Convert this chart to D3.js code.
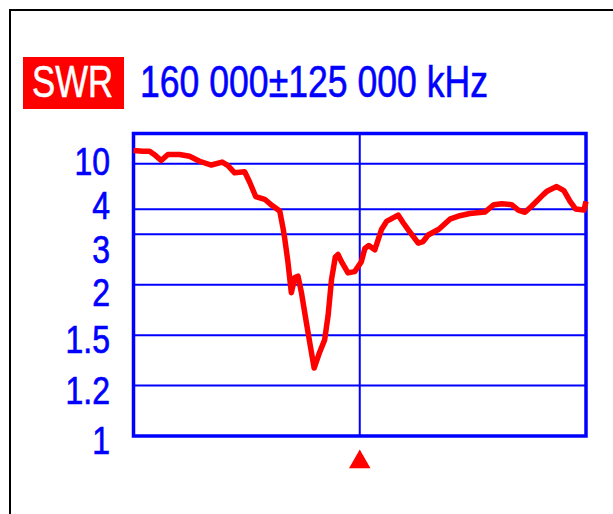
<!DOCTYPE html>
<html>
<head>
<meta charset="utf-8">
<script src="https://cdn.jsdelivr.net/npm/d3@7"></script>
<style>
  html, body { margin: 0; padding: 0; background: #fff; }
  svg { display: block; }
  text { font-family: "Liberation Sans", Arial, sans-serif; }
</style>
</head>
<body>
<svg id="chart" width="613" height="514"></svg>
<script>
// Sweep: centre 160 000 kHz, span ±125 000 kHz
const centerKHz = 160000;
const spanKHz = 125000;

// Measured sweep (frequency in kHz, SWR)
const freqKHz = [35000, 40000, 43850, 47200, 50300, 54000, 60400, 66000, 71500, 78000,
  84000, 87200, 90900, 96400, 99200, 102500, 107500, 111600, 115800, 117600,
  118500, 120300, 122200, 124100, 125900, 127800, 130500, 132400, 134800, 137900,
  140600, 142500, 144400, 146500, 148000, 149900, 153500, 157200, 160900, 162800,
  165000, 168300, 172000, 174800, 181200, 184000, 186700, 192300, 195000, 197800,
  203700, 209800, 215300, 220800, 229100, 234100, 238500, 243900, 247600, 251300,
  255100, 261400, 263400, 268800, 272800, 276200, 279200, 283900, 285000];
const swrValues = [17.8, 17.1, 17.1, 13.7, 11.2, 14.4, 14.4, 13.3, 10.9, 9.6,
  10.6, 9.4, 7.7, 7.9, 6.2, 4.8, 4.6, 4.2, 3.9, 3.2,
  2.9, 2.36, 1.90, 2.10, 2.12, 1.90, 1.60, 1.445, 1.29, 1.385,
  1.466, 1.66, 2.07, 2.45, 2.50, 2.36, 2.17, 2.19, 2.36, 2.63,
  2.70, 2.60, 3.15, 3.44, 3.71, 3.39, 3.15, 2.76, 2.80, 2.98,
  3.16, 3.53, 3.68, 3.78, 3.85, 4.25, 4.31, 4.25, 3.95, 3.84,
  4.17, 4.95, 5.23, 5.70, 5.30, 4.46, 4.01, 3.95, 4.46];

// SWR axis ticks
const swrTicks = [10, 4, 3, 2, 1.5, 1.2, 1];
const swrTickLabels = ["10", "4", "3", "2", "1.5", "1.2", "1"];

const titleBadge = "SWR";
const titleText = "160 000\u00b1125 000 kHz";

const BLUE = "#0000ff";
const RED = "#ff0000";

const svg = d3.select("#chart");

// outer frame (top and left edges)
svg.append("path")
  .attr("d", "M10,514 V10 H613")
  .attr("fill", "none")
  .attr("stroke", "#000")
  .attr("stroke-width", 2);

const plot = { left: 133.5, right: 586, top: 133.5, bottom: 436 };

const x = d3.scaleLinear()
  .domain([centerKHz - spanKHz, centerKHz + spanKHz])
  .range([plot.left, plot.right]);

// SWR is drawn on a 1 - 1/SWR axis: 1 at the bottom, infinity at the top
const yLin = d3.scaleLinear().domain([0, 1]).range([plot.bottom, plot.top]);
const y = s => yLin(1 - 1 / s);

// horizontal grid
svg.append("g")
  .selectAll("line")
  .data(swrTicks.filter(v => v > 1))
  .join("line")
  .attr("x1", plot.left).attr("x2", plot.right)
  .attr("y1", d => y(d)).attr("y2", d => y(d))
  .attr("stroke", BLUE).attr("stroke-width", 2);

// centre-frequency line
svg.append("line")
  .attr("x1", x(centerKHz)).attr("x2", x(centerKHz))
  .attr("y1", plot.top).attr("y2", plot.bottom)
  .attr("stroke", BLUE).attr("stroke-width", 2);

// plot frame
svg.append("rect")
  .attr("x", plot.left).attr("y", plot.top)
  .attr("width", plot.right - plot.left)
  .attr("height", plot.bottom - plot.top)
  .attr("fill", "none")
  .attr("stroke", BLUE).attr("stroke-width", 3.5);

// axis labels: start at each gridline, then spread apart so they never overlap
const labelSize = 39;
const capHalf = labelSize * 0.716 / 2;
const minGap = labelSize * 1.12;
const labelY = swrTicks.map(v => y(v) + 4);
for (let it = 0; it < 40; it++) {
  for (let i = 0; i < labelY.length - 1; i++) {
    const gap = labelY[i + 1] - labelY[i];
    if (gap < minGap) {
      const push = (minGap - gap) / 2;
      labelY[i] -= push;
      labelY[i + 1] += push;
    }
  }
}
svg.append("g")
  .selectAll("text")
  .data(swrTickLabels)
  .join("text")
  .attr("transform", (d, i) => `translate(110,${labelY[i] + capHalf}) scale(0.82,1)`)
  .attr("text-anchor", "end")
  .attr("font-size", labelSize)
  .attr("fill", BLUE)
  .attr("stroke", BLUE)
  .attr("stroke-width", 0.7)
  .text(d => d);

// SWR trace
const line = d3.line()
  .x(d => x(d[0]))
  .y(d => y(d[1]));
svg.append("path")
  .datum(d3.zip(freqKHz, swrValues))
  .attr("d", line)
  .attr("fill", "none")
  .attr("stroke", RED)
  .attr("stroke-width", 5.5)
  .attr("stroke-linejoin", "round");

// centre marker
const mx = x(centerKHz);
svg.append("path")
  .attr("d", d3.symbol().type(d3.symbolTriangle).size(200)())
  .attr("transform", `translate(${mx},${462})`)
  .attr("fill", RED);

// title
svg.append("rect")
  .attr("x", 23).attr("y", 57).attr("width", 101).attr("height", 52)
  .attr("fill", RED);
svg.append("text")
  .attr("x", 32).attr("y", 96.5)
  .attr("font-size", 44)
  .attr("fill", "#fff")
  .attr("stroke", "#fff")
  .attr("stroke-width", 0.6)
  .attr("textLength", 81)
  .attr("lengthAdjust", "spacingAndGlyphs")
  .text(titleBadge);
svg.append("text")
  .attr("x", 140).attr("y", 97)
  .attr("font-size", 44)
  .attr("fill", BLUE)
  .attr("stroke", BLUE)
  .attr("stroke-width", 0.6)
  .attr("textLength", 348)
  .attr("lengthAdjust", "spacingAndGlyphs")
  .text(titleText);
</script>
</body>
</html>
